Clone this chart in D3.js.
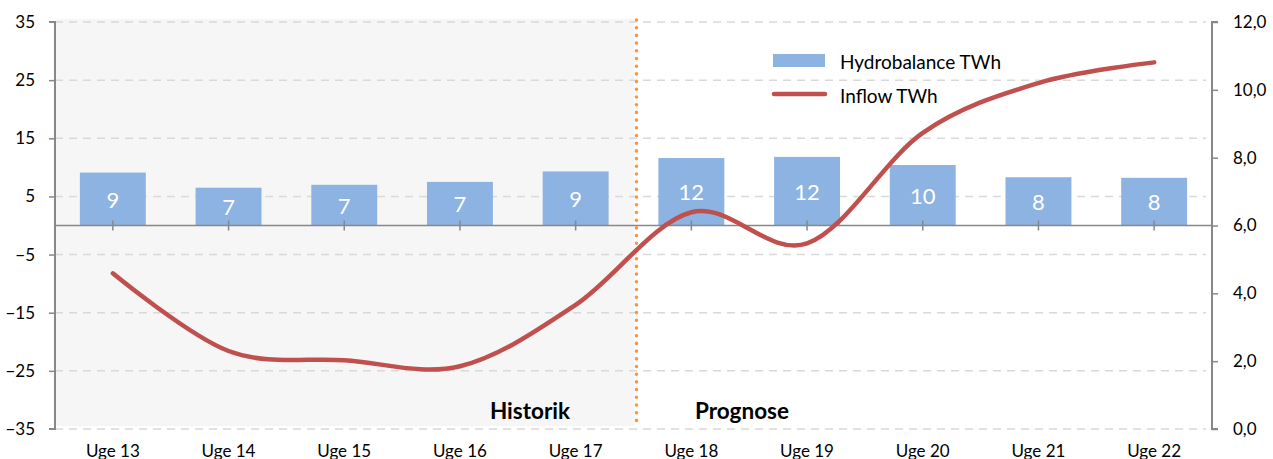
<!DOCTYPE html>
<html><head><meta charset="utf-8">
<script src="https://cdn.jsdelivr.net/npm/d3@7"></script>
<style>body{margin:0;background:#fff}svg{display:block;font-family:Lato,"Open Sans",sans-serif}</style>
</head><body><svg id="c" width="1273" height="459"></svg>
<script>
const categories = ["Uge 13","Uge 14","Uge 15","Uge 16","Uge 17","Uge 18","Uge 19","Uge 20","Uge 21","Uge 22"];
const hydrobalance = [9.1, 6.5, 7.0, 7.5, 9.3, 11.6, 11.8, 10.4, 8.3, 8.2];
const hydroLabels = ["9","7","7","7","9","12","12","10","8","8"];
const inflow = [4.59, 2.30, 2.03, 1.85, 3.66, 6.39, 5.47, 8.73, 10.2, 10.81];
const leftTicks = [-35,-25,-15,-5,5,15,25,35];
const rightTicks = [0,2,4,6,8,10,12];
const seriesNames = ["Hydrobalance TWh","Inflow TWh"];
const periodLabels = ["Historik","Prognose"];

const svg = d3.select("#c");
const L = 55, R = 1212, T = 22, B = 429;
const x = d3.scaleBand().domain(categories).range([L, R]).paddingInner(0.43).paddingOuter(0.215);
const xc = d => x(d) + x.bandwidth()/2;
const yL = d3.scaleLinear().domain([-35,35]).range([B,T]);
const yR = d3.scaleLinear().domain([0,12]).range([B,T]);
const step = x.step();
const splitX = L + step*5 + 3;

// shaded history area
svg.append("rect").attr("x", L).attr("y", T-3).attr("width", splitX - 2 - L).attr("height", B - T).attr("fill", "#f6f6f6");

// gridlines
svg.append("g").selectAll("line").data(leftTicks).join("line")
  .attr("x1", L).attr("x2", R-6).attr("y1", d=>yL(d)).attr("y2", d=>yL(d))
  .attr("stroke", "#d9d9d9").attr("stroke-width", 1.5).attr("stroke-dasharray", "8,6");

// bars
svg.append("g").selectAll("rect").data(categories).join("rect")
  .attr("x", d=>x(d)).attr("width", x.bandwidth())
  .attr("y", (d,i)=>yL(hydrobalance[i])).attr("height", (d,i)=>yL(0)-yL(hydrobalance[i]))
  .attr("fill", "#8db3e2");
svg.append("g").selectAll("text").data(categories).join("text")
  .attr("x", d=>xc(d)).attr("y", (d,i)=>(yL(hydrobalance[i])+yL(0))/2)
  .attr("text-anchor","middle").attr("dominant-baseline","central")
  .attr("fill","#fff").attr("font-size", 22).text((d,i)=>hydroLabels[i]);

// zero axis
svg.append("line").attr("x1", L).attr("x2", R).attr("y1", yL(0)).attr("y2", yL(0)).attr("stroke","#888").attr("stroke-width",1.5);
svg.append("g").selectAll("line").data(categories).join("line")
  .attr("x1", d=>xc(d)).attr("x2", d=>xc(d)).attr("y1", yL(0)-5).attr("y2", yL(0)+5)
  .attr("stroke","#888").attr("stroke-width",1.5);

// divider
svg.append("line").attr("x1", splitX).attr("x2", splitX).attr("y1", T-2).attr("y2", B-6)
  .attr("stroke","#f79646").attr("stroke-width",3.6).attr("stroke-linecap","round").attr("stroke-dasharray","0,7.7");

// line
const line = d3.line().x((d,i)=>xc(categories[i])).y(d=>yR(d)).curve(d3.curveCardinal.tension(0));
svg.append("path").datum(inflow).attr("d", line).attr("fill","none").attr("stroke","#c0504d").attr("stroke-width",4.5).attr("stroke-linecap","round");

// left axis
const ga = svg.append("g").attr("transform",`translate(${L},0)`).call(d3.axisLeft(yL).tickValues(leftTicks).tickSize(6).tickPadding(14).tickFormat(d3.format("d")));
ga.select(".domain").attr("d", `M-6,${T}H0V${B}H-6`).attr("stroke","#888").attr("stroke-width",2);
ga.selectAll(".tick line").attr("stroke","#888").attr("stroke-width",1.5);
ga.selectAll("text").attr("font-size",17).attr("fill","#000").attr("font-family","Lato");
ga.selectAll(".tick").filter(d=>d===35||d===-35).select("line").remove();

// right axis
const gr = svg.append("g").attr("transform",`translate(${R},0)`).call(d3.axisRight(yR).tickValues(rightTicks).tickSize(6).tickPadding(15).tickFormat(d=>d3.format(".1f")(d).replace(".",",")));
gr.select(".domain").attr("d", `M6,${T}H0V${B}H6`).attr("stroke","#888").attr("stroke-width",2);
gr.selectAll(".tick line").attr("stroke","#888").attr("stroke-width",1.5);
gr.selectAll("text").attr("font-size",17).attr("fill","#000").attr("font-family","Lato");

// x labels
svg.append("g").selectAll("text").data(categories).join("text")
  .attr("x", d=>xc(d)).attr("y", 450).attr("text-anchor","middle").attr("dominant-baseline","central")
  .attr("font-size",17).attr("fill","#000").text(d=>d);

// period labels
svg.append("text").attr("x", 530).attr("y", 419).attr("text-anchor","middle").attr("font-size",22.5).attr("font-weight","bold").attr("fill","#000").text(periodLabels[0]);
svg.append("text").attr("x", 742).attr("y", 419).attr("text-anchor","middle").attr("font-size",22.5).attr("font-weight","bold").attr("fill","#000").text(periodLabels[1]);

// legend
svg.append("rect").attr("x",773).attr("y",54).attr("width",52).attr("height",13).attr("fill","#8db3e2");
svg.append("text").attr("x",840).attr("y",61).attr("dominant-baseline","central").attr("font-size",19).attr("fill","#000").text(seriesNames[0]);
svg.append("line").attr("x1",774).attr("x2",825).attr("y1",94).attr("y2",94).attr("stroke","#c0504d").attr("stroke-width",4.5).attr("stroke-linecap","round");
svg.append("text").attr("x",840).attr("y",95).attr("dominant-baseline","central").attr("font-size",19).attr("fill","#000").text(seriesNames[1]);
</script></body></html>
